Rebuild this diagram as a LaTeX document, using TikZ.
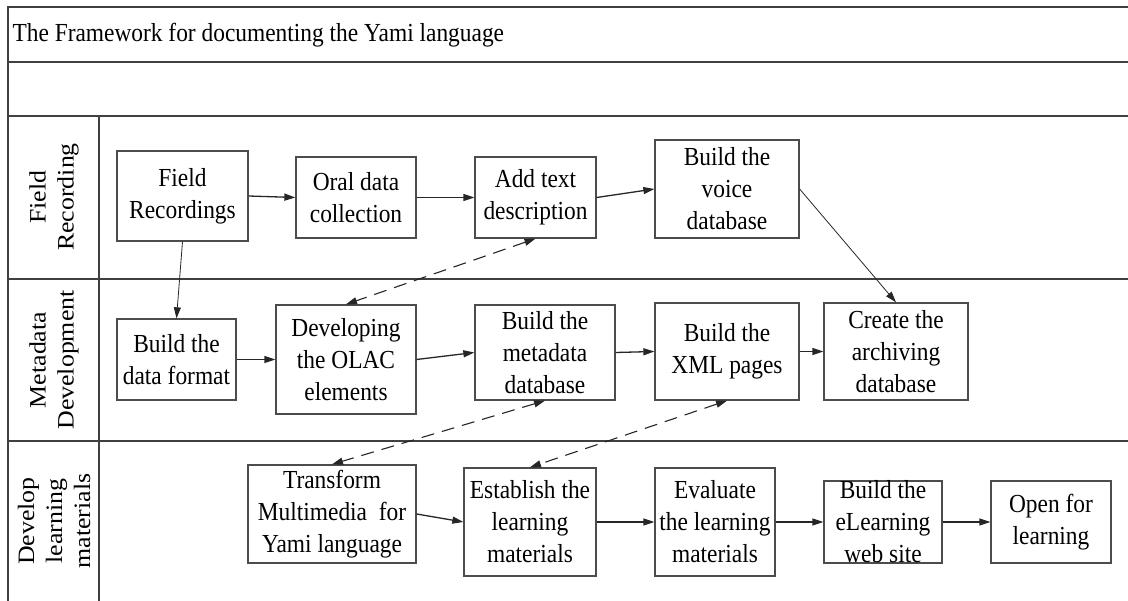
\documentclass[tikz,border=0pt]{standalone}
\usepackage{fontspec}
\setmainfont{Liberation Serif}
\newfontfamily\boxfont[FakeStretch=0.9]{Liberation Serif}
\newfontfamily\lanefont[FakeStretch=1.1]{Liberation Serif}
\usepackage{tikz}
\usetikzlibrary{arrows.meta}
\usepackage{xcolor}

\definecolor{frameline}{gray}{0.25}
\definecolor{boxline}{gray}{0.3}

\tikzset{
	box/.style={draw=boxline,line width=1.3pt,rectangle,align=center,inner sep=2pt,
		font=\boxfont\fontsize{26}{32}\selectfont},
	lane/.style={rotate=90,align=center,font=\lanefont\fontsize{23.5}{28}\selectfont},
	flow/.style={-{Triangle[length=11pt,width=7pt]},line width=1.3pt,black!85},
	thinflow/.style={-{Triangle[length=11pt,width=7pt]},line width=0.8pt,black!85},
	link/.style={{Triangle[length=11pt,width=7pt]}-{Triangle[length=11pt,width=7pt]},
		line width=1.1pt,black!85,dash pattern=on 13pt off 8pt}
}

\begin{document}
\begin{tikzpicture}[x=1pt,y=-1pt]
		\useasboundingbox (0,0) rectangle (1128,601);
		
		% Frame and swimlanes
		\draw[frameline,line width=1.8pt] (1128,7) -- (8,7) -- (8,601);
		\foreach \y in {62,116,279,441}
			\draw[frameline,line width=1.8pt] (8,\y) -- (1128,\y);
		\draw[frameline,line width=1.8pt] (99,116) -- (99,601);
		
		\node[anchor=west,font=\boxfont\fontsize{26}{32}\selectfont] (title) at (9,35)
		{The Framework for documenting the Yami language};
		
		% Lane names
		\node[lane] (lfield) at (54,197) {Field\\Recording};
		\node[lane] (lmeta) at (54,360) {Metadata\\Development};
		\node[lane] (llearn) at (54,521) {Develop\\learning\\materials};
		
		% Field recording
		\node[box,minimum width=131,minimum height=90] (fr) at (182.5,196) {Field\\Recordings};
		\node[box,minimum width=120,minimum height=81] (oral) at (356,197.5) {Oral data\\collection};
		\node[box,minimum width=121,minimum height=81] (add) at (535.5,197.5) {Add text\\description};
		\node[box,minimum width=144,minimum height=98] (voice) at (727,189) {Build the\\voice\\database};
		
		% Metadata development
		\node[box,minimum width=119,minimum height=81] (bdf) at (176.5,359.5) {Build the\\data format};
		\node[box,minimum width=140,minimum height=109] (olac) at (346,359.5) {Developing\\the OLAC\\elements};
		\node[box,minimum width=140,minimum height=95] (meta) at (545,352.5) {Build the\\metadata\\database};
		\node[box,minimum width=144,minimum height=97] (xml) at (727,351.5) {Build the\\XML pages};
		\node[box,minimum width=144,minimum height=97] (create) at (896,351.5) {Create the\\archiving\\database};
		
		% Learning materials
		\node[box,minimum width=168,minimum height=98] (trans) at (332,514) {Transform\\Multimedia~ for\\Yami language};
		\node[box,minimum width=132,minimum height=108] (estab) at (530,522) {Establish the\\learning\\materials};
		\node[box,minimum width=120,minimum height=108] (eval) at (715,522) {Evaluate\\the learning\\materials};
		\node[box,minimum width=118,minimum height=82,inner ysep=-10pt] (web) at (883,522) {Build the\\eLearning\\web site};
		\node[box,minimum width=120,minimum height=82] (open) at (1051,522) {Open for\\learning};
		
		% Flow along each lane
		\foreach \a/\b in {fr/oral,oral/add,add/voice,bdf/olac,olac/meta,meta/xml,xml/create,
			trans/estab,estab/eval,eval/web,web/open}
			\draw[flow] (\a.east) -- (\b.west);
		
		% Between lanes
		\draw[thinflow] (fr.south) -- (bdf.north);
		\draw[thinflow] (voice.east) -- (create.north);
		\foreach \a/\b in {add/olac,meta/trans,xml/estab}
			\draw[link] (\a.south) -- (\b.north);
	\end{tikzpicture}
\end{document}
